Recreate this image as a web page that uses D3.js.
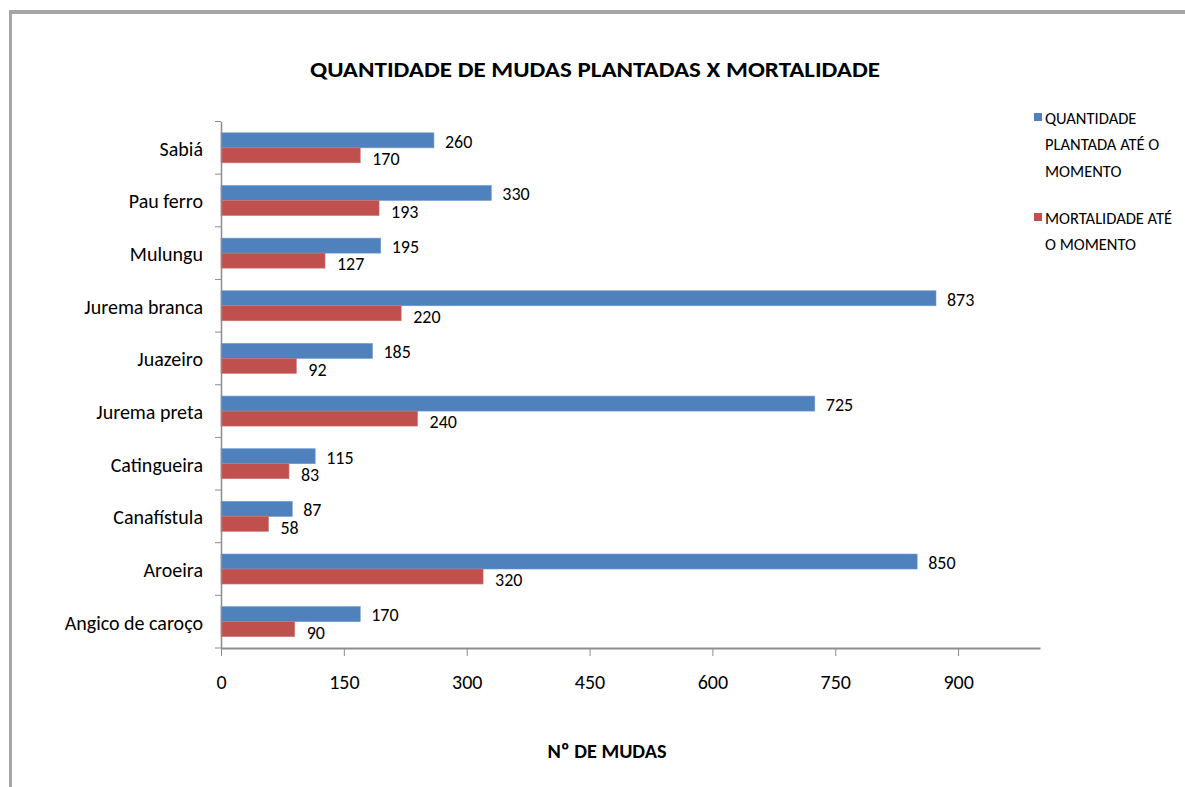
<!DOCTYPE html>
<html><head><meta charset="utf-8">
<script src="https://cdn.jsdelivr.net/npm/d3@7"></script>
<style>
html,body{margin:0;padding:0;background:#fff;}
svg{display:block;}
text{font-family:Carlito,Lato,"Open Sans",sans-serif;fill:#000;}
</style></head>
<body>
<svg id="chart" width="1185" height="787"></svg>
<script>
const categories = ["Sabiá","Pau ferro","Mulungu","Jurema branca","Juazeiro","Jurema preta","Catingueira","Canafístula","Aroeira","Angico de caroço"];
const plantedValues = [260,330,195,873,185,725,115,87,850,170];
const mortalityValues = [170,193,127,220,92,240,83,58,320,90];
const xTicks = [0,150,300,450,600,750,900];
const colors = ["#4F81BD","#C0504D"];
const FONT = 'Carlito,Lato,"Open Sans",sans-serif';

const svg = d3.select("#chart");

// frame borders
svg.append("rect").attr("x",9).attr("y",10).attr("width",1176).attr("height",4).attr("fill","#a6a6a6");
svg.append("rect").attr("x",9).attr("y",10).attr("width",3).attr("height",777).attr("fill","#a6a6a6");

const x = d3.scaleLinear().domain([0,1000]).range([221,1040]);
const y = d3.scaleBand().domain(categories).range([121.5,648]).paddingInner(0).paddingOuter(0);
const barH = 15;

// title
svg.append("text").attr("x",595).attr("y",77).attr("text-anchor","middle")
  .attr("font-size",22).attr("font-weight","bold")
  .attr("textLength",570).attr("lengthAdjust","spacingAndGlyphs")
  .text("QUANTIDADE DE MUDAS PLANTADAS X MORTALIDADE");

// bars
const g = svg.append("g");
categories.forEach((c,i)=>{
  const cy = y(c) + y.bandwidth()/2;
  g.append("rect").attr("x",x(0)).attr("y",cy-barH).attr("width",x(plantedValues[i])-x(0)).attr("height",barH)
    .attr("fill",colors[0]).attr("stroke","#6d9ad0").attr("stroke-width",0.6);
  g.append("rect").attr("x",x(0)).attr("y",cy).attr("width",x(mortalityValues[i])-x(0)).attr("height",barH)
    .attr("fill",colors[1]).attr("stroke","#d07573").attr("stroke-width",0.6);
  g.append("text").attr("x",x(plantedValues[i])+11).attr("y",cy-6.5).attr("dy","0.35em")
    .attr("font-size",18).text(plantedValues[i]);
  g.append("text").attr("x",x(mortalityValues[i])+12).attr("y",cy+11).attr("dy","0.35em")
    .attr("font-size",18).text(mortalityValues[i]);
});

// x axis
const xAxis = d3.axisBottom(x).tickValues(xTicks).tickSize(8).tickSizeOuter(0).tickPadding(19);
const xg = svg.append("g").attr("transform","translate(0,648)").call(xAxis);
xg.select(".domain").attr("stroke","#8c8c8c").attr("stroke-width",2);
xg.selectAll(".tick line").attr("stroke","#8c8c8c");
xg.selectAll(".tick text").attr("font-size",20).attr("fill","#000").style("font-family",FONT);

// y axis
const yAxis = d3.axisLeft(y).tickSize(0).tickPadding(18);
const yg = svg.append("g").attr("transform","translate(221,0)").call(yAxis);
yg.select(".domain").attr("stroke","#8c8c8c").attr("stroke-width",1.5);
yg.selectAll(".tick text").attr("font-size",20).attr("fill","#000").attr("dy","0.4em").style("font-family",FONT);
const bounds = categories.map(c=>y(c)).concat([y.range()[1]]);
yg.selectAll("line.bnd").data(bounds).enter().append("line").attr("class","bnd")
  .attr("x1",-6).attr("x2",0).attr("y1",d=>d).attr("y2",d=>d).attr("stroke","#8c8c8c");

// axis title
svg.append("text").attr("x",607).attr("y",758).attr("text-anchor","middle")
  .attr("font-size",21).attr("font-weight","bold")
  .attr("textLength",119).attr("lengthAdjust","spacingAndGlyphs").text("Nº DE MUDAS");

// legend
const legendLines = [["QUANTIDADE","PLANTADA ATÉ O","MOMENTO"],["MORTALIDADE ATÉ","O MOMENTO"]];
const legendTop = [118, 218];
legendLines.forEach((lines,i)=>{
  svg.append("rect").attr("x",1034).attr("y",legendTop[i]-5).attr("width",8).attr("height",8).attr("fill",colors[i]);
  lines.forEach((t,j)=>{
    svg.append("text").attr("x",1045).attr("y",legendTop[i]+j*26.5).attr("dy","0.35em")
      .attr("font-size",16.5).text(t);
  });
});
</script>
</body></html>
